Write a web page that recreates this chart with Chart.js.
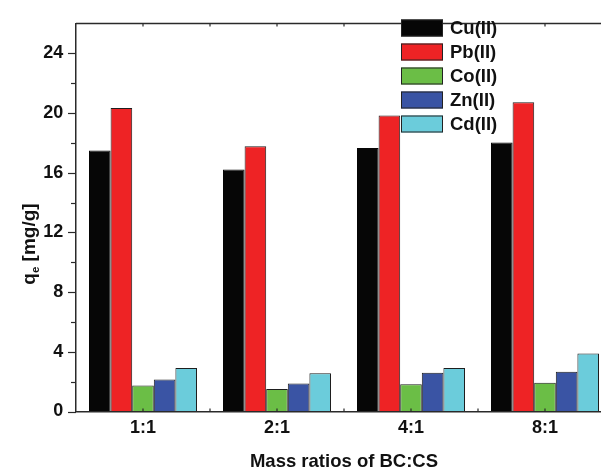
<!DOCTYPE html>
<html>
<head>
<meta charset="utf-8">
<script src="https://cdn.jsdelivr.net/npm/chart.js@4/dist/chart.umd.min.js"></script>
<style>
  html, body { margin: 0; padding: 0; overflow: hidden; background: #fff; }
  #wrap { width: 640px; height: 471px; }
</style>
</head>
<body>
<div id="wrap"><canvas id="c" width="640" height="471"></canvas></div>
<script>
// ---- data ----
const categories = ['1:1', '2:1', '4:1', '8:1'];
const seriesNames = ['Cu(II)', 'Pb(II)', 'Co(II)', 'Zn(II)', 'Cd(II)'];
const cuValues = [17.49, 16.22, 17.66, 18.03];
const pbValues = [20.33, 17.77, 19.83, 20.72];
const coValues = [1.75, 1.51, 1.82, 1.93];
const znValues = [2.14, 1.88, 2.60, 2.67];
const cdValues = [2.91, 2.56, 2.91, 3.89];
const yMajorTicks = [0, 4, 8, 12, 16, 20, 24];
const xTitle = 'Mass ratios of BC:CS';

// ---- styles ----
const colors = ['#060606', '#EE2325', '#6BBE46', '#3A54A4', '#6BCCDB'];
const seriesValues = [cuValues, pbValues, coValues, znValues, cdValues];
const AXIS = '#2a2a2a';
const FONT = "'Liberation Sans', Arial, Helvetica, sans-serif";

const datasets = seriesNames.map((name, i) => ({
  label: name,
  data: seriesValues[i],
  backgroundColor: colors[i],
  borderColor: i === 0 ? colors[0] : '#1e1e1e',
  borderWidth: 1,
  categoryPercentage: 0.806,
  barPercentage: 1.0
}));

const decorPlugin = {
  id: 'decor',
  afterDatasetsDraw(chart) {
    const ctx = chart.ctx;
    const ca = chart.chartArea;
    const xs = chart.scales.x;
    const ys = chart.scales.y;
    ctx.save();
    ctx.strokeStyle = AXIS;
    ctx.lineWidth = 1.5;
    ctx.beginPath();
    ctx.moveTo(ca.left, ca.top);
    ctx.lineTo(ca.right + 1, ca.top);
    ctx.stroke();
    ctx.lineWidth = 1.2;
    for (let v = 0; v <= 24; v += 2) {
      const py = Math.round(ys.getPixelForValue(v)) + 0.5;
      const len = (yMajorTicks.indexOf(v) >= 0) ? 8 : 5;
      ctx.beginPath();
      ctx.moveTo(ca.left - len, py);
      ctx.lineTo(ca.left, py);
      ctx.stroke();
    }
    const n = categories.length;
    const pts = [];
    for (let i = 0; i < n; i++) {
      const c = xs.getPixelForValue(i);
      pts.push(c);
      if (i < n - 1) pts.push((c + xs.getPixelForValue(i + 1)) / 2);
    }
    pts.forEach(px => {
      ctx.beginPath();
      ctx.moveTo(px, ca.top);
      ctx.lineTo(px, ca.top + 3);
      ctx.moveTo(px, ca.bottom);
      ctx.lineTo(px, ca.bottom - 3);
      ctx.stroke();
    });
    ctx.restore();
  },
  afterDraw(chart) {
    const ctx = chart.ctx;
    ctx.save();
    ctx.font = 'bold 18.5px ' + FONT;
    ctx.textBaseline = 'middle';
    ctx.textAlign = 'left';
    chart.data.datasets.forEach((ds, i) => {
      const cy = 28 + 24 * i;
      ctx.fillStyle = ds.backgroundColor;
      ctx.fillRect(401, cy - 8.5, 42, 17);
      ctx.strokeStyle = '#222';
      ctx.lineWidth = 1;
      ctx.strokeRect(401.5, cy - 8, 41, 16);
      ctx.fillStyle = '#111';
      ctx.fillText(ds.label, 450, cy + 0.5);
    });
    ctx.translate(29, 244);
    ctx.rotate(-Math.PI / 2);
    const big = 'bold 19px ' + FONT;
    const small = 'bold 11.5px ' + FONT;
    ctx.font = big;
    const wq = ctx.measureText('q').width;
    const wr = ctx.measureText(' [mg/g]').width;
    ctx.font = small;
    const we = ctx.measureText('e').width;
    let x0 = -(wq + we + wr) / 2;
    ctx.fillStyle = '#111';
    ctx.textBaseline = 'alphabetic';
    ctx.font = big;
    ctx.fillText('q', x0, 6);
    ctx.font = small;
    ctx.fillText('e', x0 + wq, 10);
    ctx.font = big;
    ctx.fillText(' [mg/g]', x0 + wq + we, 6);
    ctx.restore();
  }
};

new Chart(document.getElementById('c'), {
  type: 'bar',
  data: { labels: categories, datasets: datasets },
  options: {
    responsive: false,
    animation: false,
    devicePixelRatio: 1,
    layout: { padding: { left: 0, top: 16, right: 28, bottom: 0 } },
    plugins: { legend: { display: false }, tooltip: { enabled: false } },
    scales: {
      x: {
        offset: true,
        grid: { display: false, drawTicks: false },
        border: { display: true, color: AXIS, width: 1.5 },
        ticks: {
          padding: 6,
          color: '#111',
          font: { family: FONT, size: 18, weight: 'bold' }
        },
        title: {
          display: true,
          text: xTitle,
          color: '#111',
          padding: { top: 0, bottom: 0 },
          font: { family: FONT, size: 18.5, weight: 'bold', lineHeight: 1 }
        },
        afterFit(s) { s.height = 59.5; }
      },
      y: {
        min: 0,
        max: 26,
        grid: { display: true, drawOnChartArea: false, drawTicks: false, color: 'rgba(0,0,0,0)' },
        border: { display: true, color: AXIS, width: 1.5 },
        ticks: {
          stepSize: 2,
          padding: 12.7,
          color: '#111',
          font: { family: FONT, size: 18, weight: 'bold' },
          callback: (v) => (yMajorTicks.indexOf(v) >= 0 ? String(v) : '')
        },
        afterFit(s) { s.width = 76; }
      }
    }
  },
  plugins: [decorPlugin]
});
</script>
</body>
</html>
